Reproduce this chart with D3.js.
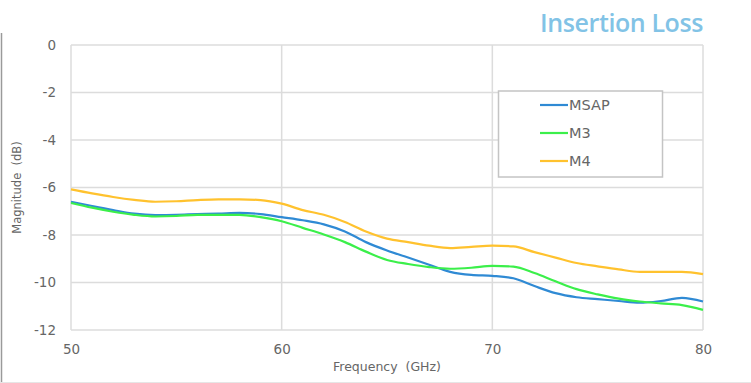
<!DOCTYPE html>
<html><head><meta charset="utf-8">
<script src="https://cdn.jsdelivr.net/npm/d3@7"></script>
<style>body{margin:0;background:#fff}svg{display:block}</style>
</head><body>
<svg id="c" width="751" height="383"></svg>
<script>
const freq = [50,51,52,53,54,55,56,57,58,59,60,61,62,63,64,65,66,67,68,69,70,71,72,73,74,75,76,77,78,79,80];
const msap = [-6.6,-6.78,-6.95,-7.1,-7.16,-7.15,-7.12,-7.1,-7.07,-7.12,-7.25,-7.38,-7.55,-7.85,-8.3,-8.65,-8.95,-9.25,-9.55,-9.68,-9.72,-9.82,-10.15,-10.45,-10.62,-10.7,-10.78,-10.85,-10.78,-10.65,-10.8];
const m3 = [-6.65,-6.85,-7.02,-7.15,-7.22,-7.2,-7.15,-7.15,-7.15,-7.25,-7.42,-7.7,-7.98,-8.3,-8.7,-9.05,-9.22,-9.35,-9.42,-9.38,-9.3,-9.33,-9.6,-9.95,-10.28,-10.5,-10.68,-10.8,-10.88,-10.95,-11.15];
const m4 = [-6.08,-6.25,-6.4,-6.52,-6.6,-6.58,-6.53,-6.5,-6.5,-6.53,-6.68,-6.95,-7.15,-7.45,-7.85,-8.15,-8.3,-8.45,-8.55,-8.5,-8.45,-8.48,-8.72,-8.95,-9.18,-9.32,-9.45,-9.55,-9.55,-9.55,-9.65];
const seriesNames = ["MSAP","M3","M4"];
const seriesColors = ["#2f8ad4","#3bef4a","#ffc22e"];
const xTicks = [50,60,70,80];
const yTicks = [0,-2,-4,-6,-8,-10,-12];
const title = "Insertion Loss";
const xTitle = "Frequency\u00a0\u00a0(GHz)";
const yTitle = "Magnitude\u00a0\u00a0(dB)";

const svg = d3.select("#c");
const L=71, R=703, T=45, B=330;
const x = d3.scaleLinear().domain([50,80]).range([L,R]);
const y = d3.scaleLinear().domain([-12,0]).range([B,T]);

// outer frame lines
svg.append("line").attr("x1",1.5).attr("x2",1.5).attr("y1",33).attr("y2",383).attr("stroke","#9a9a9a").attr("stroke-width",1.5);
svg.append("line").attr("x1",0).attr("x2",751).attr("y1",382.5).attr("y2",382.5).attr("stroke","#e6e6e6");

// title
svg.append("text").attr("x",703).attr("y",32).attr("text-anchor","end")
  .attr("font-family","Open Sans").attr("font-weight",600).attr("font-size",25)
  .attr("letter-spacing",-0.4).attr("fill","#82c3e6").text(title);

// grid
const g = svg.append("g");
g.selectAll(".hg").data(yTicks).join("line").attr("x1",L).attr("x2",R)
  .attr("y1",d=>y(d)).attr("y2",d=>y(d)).attr("stroke","#dcdcdc").attr("stroke-width",1.5);
g.selectAll(".vg").data(xTicks).join("line").attr("y1",T).attr("y2",B)
  .attr("x1",d=>x(d)).attr("x2",d=>x(d)).attr("stroke","#dcdcdc").attr("stroke-width",1.5);

// axes
const xa = svg.append("g").attr("transform",`translate(0,${B})`)
  .call(d3.axisBottom(x).tickValues(xTicks).tickSize(0).tickPadding(14).tickFormat(d3.format("d")));
const ya = svg.append("g").attr("transform",`translate(${L},0)`)
  .call(d3.axisLeft(y).tickValues(yTicks).tickSize(0).tickPadding(15).tickFormat(d=>d===0?"0":"-"+Math.abs(d)));
[xa,ya].forEach(a=>{
  a.select(".domain").remove();
  a.selectAll("text").attr("font-family","DejaVu Sans").attr("font-size",13.5).attr("fill","#666");
});

// axis titles
svg.append("text").attr("x",(L+R)/2).attr("y",371).attr("text-anchor","middle")
  .attr("font-family","DejaVu Sans").attr("font-size",12.5).attr("fill","#666").text(xTitle);
svg.append("text").attr("transform",`translate(21,${(T+B)/2}) rotate(-90)`).attr("text-anchor","middle")
  .attr("font-family","DejaVu Sans").attr("font-size",11.5).attr("fill","#666").text(yTitle);

// lines
const data = [msap,m3,m4];
const line = d3.line().x((d,i)=>x(freq[i])).y(d=>y(d)).curve(d3.curveMonotoneX);
svg.selectAll(".ln").data(data).join("path").attr("d",line).attr("fill","none")
  .attr("stroke",(d,i)=>seriesColors[i]).attr("stroke-width",2.2).attr("stroke-linejoin","round");

// legend
const lg = svg.append("g");
lg.append("rect").attr("x",498.5).attr("y",91).attr("width",164).attr("height",86)
  .attr("fill","#fff").attr("stroke","#c4c4c4").attr("stroke-width",1.5);
seriesNames.forEach((n,i)=>{
  const yy = 105 + i*28;
  lg.append("line").attr("x1",540).attr("x2",568).attr("y1",yy).attr("y2",yy)
    .attr("stroke",seriesColors[i]).attr("stroke-width",2.2);
  lg.append("text").attr("x",569).attr("y",yy+5).attr("font-family","DejaVu Sans")
    .attr("font-size",14.5).attr("fill","#666").text(n);
});
</script>
</body></html>
